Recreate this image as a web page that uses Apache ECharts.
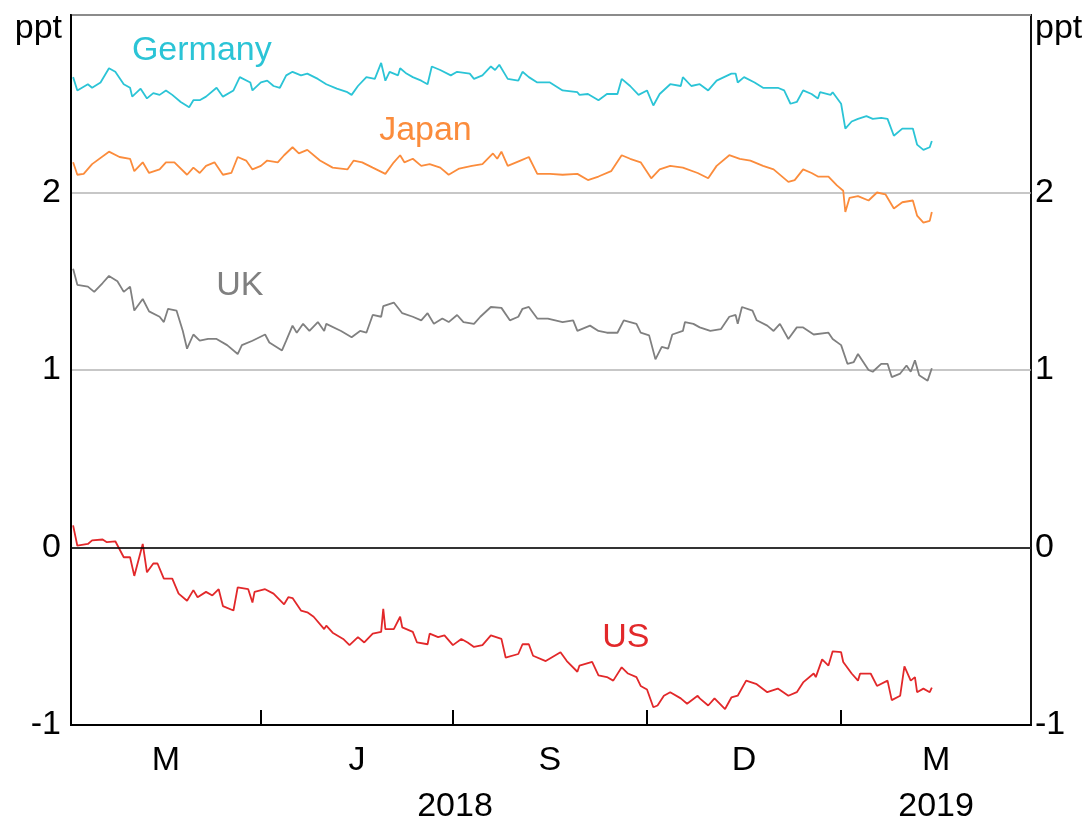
<!DOCTYPE html>
<html>
<head>
<meta charset="utf-8">
<script src="https://cdn.jsdelivr.net/npm/echarts@6/dist/echarts.min.js"></script>
<style>
	html, body { margin: 0; padding: 0; background: #fff; }
	#chart { width: 1087px; height: 821px; }
</style>
</head>
<body>
<div id="chart"></div>
<script>
// x values are days counted from 1 Jan 2018
var qTicks = [90, 181, 273, 365];
var qCenters = [45, 135.5, 227, 319, 410];
var qLabels = ['M', 'J', 'S', 'D', 'M'];
var yearCenters = [182, 410];
var yearLabels = ['2018', '2019'];

var germany = [[1, 2.65], [3, 2.575], [8, 2.61], [10, 2.59], [14, 2.62], [18, 2.70], [21, 2.68], [25, 2.61], [28, 2.59], [29, 2.54],
	[33, 2.585], [36, 2.53], [39, 2.56], [42, 2.55], [45, 2.575], [48, 2.55], [52, 2.51], [56, 2.48], [58, 2.52], [61, 2.52],
	[64, 2.54], [69, 2.59], [72, 2.54], [77, 2.575], [80, 2.65], [85, 2.62], [86, 2.575], [90, 2.62], [93, 2.63], [96, 2.60],
	[99, 2.59], [102, 2.66], [105, 2.68], [109, 2.66], [112, 2.67], [117, 2.64], [121, 2.61], [126, 2.585], [131, 2.565], [133, 2.55],
	[136, 2.60], [140, 2.65], [144, 2.64], [147, 2.73], [149, 2.63], [151, 2.68], [155, 2.66], [156, 2.70], [159, 2.67], [162, 2.65],
	[166, 2.63], [169, 2.61], [171, 2.71], [175, 2.69], [180, 2.66], [183, 2.68], [189, 2.67], [191, 2.64], [195, 2.66], [199, 2.71],
	[201, 2.69], [203, 2.72], [207, 2.64], [212, 2.63], [214, 2.68], [217, 2.65], [221, 2.62], [227, 2.62], [233, 2.575], [240, 2.565],
	[241, 2.55], [245, 2.555], [250, 2.52], [254, 2.555], [259, 2.555], [261, 2.64], [265, 2.60], [269, 2.55], [273, 2.575], [276, 2.49],
	[279, 2.555], [284, 2.61], [289, 2.60], [290, 2.65], [294, 2.60], [298, 2.61], [302, 2.575], [306, 2.63], [313, 2.67], [315, 2.67],
	[316, 2.62], [319, 2.65], [324, 2.62], [328, 2.59], [335, 2.59], [338, 2.575], [341, 2.50], [344, 2.51], [347, 2.575], [351, 2.555],
	[354, 2.53], [355, 2.565], [360, 2.55], [361, 2.565], [365, 2.50], [367, 2.36], [370, 2.40], [373, 2.415], [377, 2.43], [380, 2.415],
	[384, 2.42], [387, 2.415], [390, 2.32], [394, 2.36], [399, 2.36], [401, 2.27], [404, 2.24], [407, 2.255], [408, 2.29]];

var japan = [[1, 2.17], [3, 2.10], [6, 2.105], [10, 2.16], [18, 2.23], [23, 2.20], [28, 2.19], [30, 2.12], [34, 2.17], [37, 2.11],
	[42, 2.13], [45, 2.17], [49, 2.17], [55, 2.10], [58, 2.14], [61, 2.11], [64, 2.15], [68, 2.17], [72, 2.10], [76, 2.11],
	[79, 2.20], [83, 2.18], [86, 2.13], [90, 2.15], [93, 2.18], [98, 2.17], [101, 2.21], [105, 2.255], [108, 2.22], [112, 2.24],
	[118, 2.18], [124, 2.14], [131, 2.13], [134, 2.18], [138, 2.17], [143, 2.14], [149, 2.105], [153, 2.17], [156, 2.21], [158, 2.17],
	[162, 2.19], [166, 2.15], [170, 2.16], [175, 2.14], [179, 2.10], [184, 2.135], [190, 2.15], [195, 2.16], [200, 2.22], [202, 2.19],
	[204, 2.23], [207, 2.15], [213, 2.18], [217, 2.20], [221, 2.105], [227, 2.105], [233, 2.10], [240, 2.105], [245, 2.07], [250, 2.09],
	[256, 2.12], [261, 2.21], [265, 2.19], [270, 2.17], [275, 2.08], [279, 2.13], [284, 2.15], [290, 2.14], [297, 2.11], [302, 2.08],
	[306, 2.15], [312, 2.21], [317, 2.19], [322, 2.18], [328, 2.15], [333, 2.13], [340, 2.06], [343, 2.07], [347, 2.13], [351, 2.11],
	[354, 2.09], [359, 2.09], [363, 2.04], [366, 2.01], [367, 1.89], [369, 1.97], [373, 1.98], [378, 1.955], [382, 2.00], [386, 1.99],
	[390, 1.91], [394, 1.945], [399, 1.955], [401, 1.87], [404, 1.83], [407, 1.84], [408, 1.89]];

var uk = [[1, 1.57], [3, 1.48], [8, 1.47], [11, 1.44], [15, 1.49], [18, 1.53], [22, 1.50], [25, 1.44], [28, 1.47], [30, 1.335],
	[34, 1.40], [37, 1.33], [42, 1.30], [44, 1.27], [46, 1.345], [50, 1.335], [53, 1.22], [55, 1.12], [58, 1.20], [61, 1.165],
	[65, 1.175], [69, 1.175], [74, 1.14], [79, 1.09], [81, 1.14], [86, 1.165], [92, 1.20], [94, 1.155], [100, 1.11], [102, 1.165],
	[105, 1.25], [107, 1.21], [110, 1.26], [113, 1.22], [117, 1.27], [120, 1.22], [121, 1.26], [128, 1.22], [133, 1.185], [137, 1.22],
	[140, 1.21], [143, 1.31], [147, 1.30], [148, 1.36], [153, 1.38], [157, 1.32], [162, 1.30], [166, 1.28], [169, 1.32], [172, 1.26],
	[176, 1.29], [179, 1.27], [183, 1.31], [186, 1.27], [191, 1.26], [194, 1.30], [199, 1.355], [204, 1.35], [208, 1.28], [212, 1.30],
	[214, 1.345], [217, 1.355], [221, 1.29], [226, 1.29], [233, 1.27], [238, 1.28], [240, 1.22], [246, 1.25], [250, 1.22], [254, 1.21],
	[259, 1.21], [262, 1.28], [268, 1.26], [270, 1.21], [274, 1.195], [277, 1.06], [280, 1.13], [283, 1.12], [285, 1.20], [290, 1.22],
	[291, 1.27], [295, 1.26], [298, 1.24], [303, 1.22], [308, 1.23], [312, 1.30], [315, 1.31], [316, 1.26], [318, 1.355], [323, 1.335],
	[325, 1.28], [330, 1.25], [333, 1.22], [336, 1.26], [340, 1.175], [344, 1.24], [347, 1.24], [352, 1.20], [359, 1.21], [361, 1.175],
	[365, 1.14], [368, 1.035], [371, 1.045], [373, 1.09], [378, 1.00], [380, 0.99], [384, 1.035], [387, 1.035], [389, 0.96], [393, 0.98],
	[396, 1.025], [398, 0.99], [400, 1.055], [402, 0.97], [406, 0.94], [408, 1.01]];

var us = [[1, 0.125], [3, 0.01], [8, 0.02], [10, 0.04], [15, 0.045], [17, 0.03], [21, 0.035], [25, -0.055], [28, -0.055], [30, -0.16],
	[34, 0.02], [36, -0.14], [39, -0.09], [41, -0.09], [44, -0.175], [48, -0.175], [51, -0.26], [55, -0.30], [58, -0.24], [60, -0.28],
	[64, -0.25], [67, -0.27], [70, -0.235], [72, -0.33], [77, -0.355], [79, -0.225], [84, -0.235], [86, -0.31], [87, -0.25], [92, -0.235],
	[96, -0.26], [101, -0.32], [103, -0.28], [105, -0.285], [109, -0.355], [112, -0.365], [115, -0.39], [120, -0.46], [121, -0.44], [124, -0.48],
	[129, -0.515], [132, -0.55], [136, -0.505], [139, -0.535], [143, -0.485], [147, -0.475], [148, -0.345], [149, -0.46], [153, -0.46], [156, -0.39],
	[157, -0.45], [162, -0.475], [164, -0.535], [169, -0.545], [170, -0.485], [174, -0.505], [177, -0.495], [181, -0.55], [185, -0.515], [188, -0.535],
	[191, -0.56], [195, -0.55], [199, -0.495], [204, -0.515], [206, -0.62], [212, -0.60], [214, -0.545], [217, -0.545], [219, -0.61], [225, -0.64],
	[232, -0.59], [235, -0.64], [240, -0.70], [241, -0.665], [247, -0.645], [250, -0.72], [254, -0.73], [257, -0.75], [261, -0.675], [264, -0.71],
	[268, -0.73], [270, -0.78], [273, -0.80], [276, -0.90], [278, -0.89], [281, -0.835], [284, -0.815], [289, -0.85], [292, -0.88], [297, -0.835],
	[298, -0.85], [302, -0.89], [305, -0.85], [310, -0.91], [313, -0.845], [316, -0.835], [320, -0.75], [325, -0.77], [330, -0.815], [335, -0.795],
	[340, -0.835], [344, -0.815], [347, -0.76], [352, -0.71], [353, -0.73], [356, -0.63], [359, -0.665], [361, -0.585], [365, -0.59], [366, -0.645],
	[370, -0.71], [373, -0.75], [374, -0.71], [379, -0.71], [382, -0.78], [387, -0.75], [389, -0.86], [393, -0.835], [395, -0.67], [398, -0.75],
	[400, -0.73], [401, -0.815], [404, -0.795], [407, -0.815], [408, -0.79]];
</script>
<script>
(function() {
	var font = "'Liberation Sans', Arial, sans-serif";
	var fontSize = 34;

	function lineSeries(name, data, color, labelAt) {
		return {
			name : name,
			type : 'line',
			data : data,
			showSymbol : false,
			symbol : 'none',
			animation : false,
			lineStyle : {
				color : color,
				width : 1.8
			},
			markPoint : {
				silent : true,
				symbol : 'circle',
				symbolSize : 1,
				itemStyle : {
					color : 'rgba(0,0,0,0)'
				},
				label : {
					show : true,
					position : 'inside',
					formatter : name,
					color : color,
					fontFamily : font,
					fontSize : fontSize
				},
				data : [ {
					coord : labelAt
				} ]
			}
		};
	}

	var chart = echarts.init(document.getElementById('chart'));

	var usSeries = lineSeries('US', us, '#e2282a', [ 263, -0.51 ]);
	usSeries.markLine = {
		silent : true,
		symbol : [ 'none', 'none' ],
		label : {
			show : false
		},
		lineStyle : {
			color : '#000',
			width : 1.7,
			type : 'solid'
		},
		data : [ {
			yAxis : 0
		} ]
	};

	var option = {
		animation : false,
		textStyle : {
			fontFamily : font
		},
		grid : {
			left : 71,
			right : 56,
			top : 15,
			bottom : 96,
			containLabel : false,
			outerBoundsMode : 'none',
			show : true,
			borderColor : '#111',
			borderWidth : 2
		},
		xAxis : [ {
			type : 'value',
			min : 0,
			max : 455,
			axisLine : {
				show : true,
				onZero : false,
				lineStyle : {
					color : '#000',
					width : 2
				}
			},
			splitLine : {
				show : false
			},
			axisTick : {
				show : true,
				inside : true,
				length : 15,
				customValues : qTicks,
				lineStyle : {
					color : '#000',
					width : 2
				}
			},
			axisLabel : {
				customValues : qCenters,
				margin : 19,
				color : '#000',
				fontFamily : font,
				fontSize : fontSize,
				formatter : function(value) {
					var i = qCenters.indexOf(value);
					return i >= 0 ? qLabels[i] : '';
				}
			}
		}, {
			type : 'value',
			min : 0,
			max : 455,
			position : 'bottom',
			offset : 51,
			axisLine : {
				show : false,
				onZero : false
			},
			splitLine : {
				show : false
			},
			axisTick : {
				show : false
			},
			axisLabel : {
				customValues : yearCenters,
				margin : 14,
				color : '#000',
				fontFamily : font,
				fontSize : fontSize,
				formatter : function(value) {
					var i = yearCenters.indexOf(value);
					return i >= 0 ? yearLabels[i] : '';
				}
			}
		} ],
		yAxis : [ {
			type : 'value',
			min : -1,
			max : 3,
			interval : 1,
			axisLine : {
				show : true,
				lineStyle : {
					color : '#000',
					width : 2
				}
			},
			axisTick : {
				show : false
			},
			splitLine : {
				show : true,
				lineStyle : {
					color : '#b4b4b4',
					width : 1.5
				}
			},
			axisLabel : {
				margin : 10,
				color : '#000',
				fontFamily : font,
				fontSize : fontSize,
				formatter : function(v) {
					return v === 3 ? '' : String(v);
				}
			}
		}, {
			type : 'value',
			position : 'right',
			min : -1,
			max : 3,
			interval : 1,
			axisLine : {
				show : false
			},
			axisTick : {
				show : false
			},
			splitLine : {
				show : false
			},
			axisLabel : {
				margin : 4,
				color : '#000',
				fontFamily : font,
				fontSize : fontSize,
				formatter : function(v) {
					return v === 3 ? '' : String(v);
				}
			}
		} ],
		graphic : [ {
			type : 'text',
			x : 62,
			y : 29,
			style : {
				text : 'ppt',
				fill : '#000',
				font : fontSize + 'px ' + font,
				textAlign : 'right',
				textVerticalAlign : 'middle'
			}
		}, {
			type : 'text',
			x : 1035,
			y : 29,
			style : {
				text : 'ppt',
				fill : '#000',
				font : fontSize + 'px ' + font,
				textAlign : 'left',
				textVerticalAlign : 'middle'
			}
		} ],
		series : [ lineSeries('Germany', germany, '#2bc4d6', [ 62, 2.80 ]),
				lineSeries('Japan', japan, '#fb8c3c', [ 168, 2.35 ]),
				lineSeries('UK', uk, '#808080', [ 80, 1.476 ]), usSeries ]
	};

	chart.setOption(option);
})();
</script>
</body>
</html>
